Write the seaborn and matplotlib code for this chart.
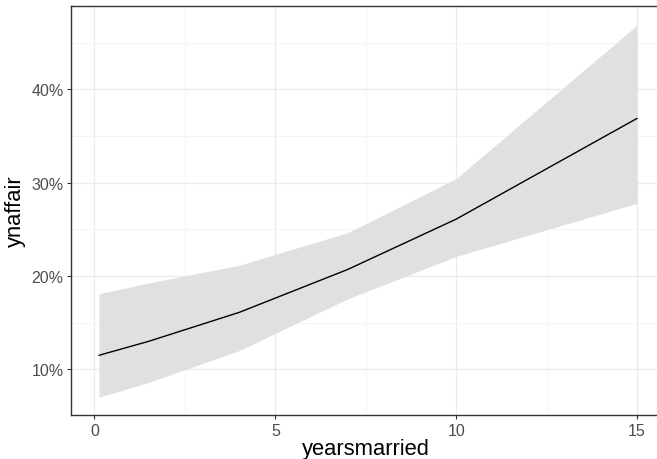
import matplotlib
matplotlib.use("Agg")
import matplotlib.pyplot as plt
import seaborn as sns
import pandas as pd
from matplotlib.ticker import PercentFormatter, MultipleLocator

yearsmarried = [0.125, 1.5, 4, 7, 10, 15]
fit = [11.5, 13.0, 16.1, 20.7, 26.1, 36.9]
upper = [18.1, 19.25, 21.15, 24.65, 30.45, 46.9]
lower = [7.0, 8.6, 12.0, 17.55, 22.1, 27.8]

df = pd.DataFrame({"yearsmarried": yearsmarried, "ynaffair": fit,
                   "lo": lower, "hi": upper})

sns.set_theme(style="white")
plt.rcParams['font.family'] = ['Liberation Sans', 'DejaVu Sans']

W, H = 657, 460
L, R, T, B = 71.3, 657, 6.5, 416
fig = plt.figure(figsize=(W / 100, H / 100), dpi=100)
ax = fig.add_axes([L / W, 1 - B / H, (R - L) / W, (B - T) / H])

ax.fill_between(df["yearsmarried"], df["lo"], df["hi"], color="#E0E0E0",
                linewidth=0, zorder=2)
sns.lineplot(data=df, x="yearsmarried", y="ynaffair", color="black",
             linewidth=1.0, ax=ax, zorder=3)

ax.set_xlim(-0.64, 15.55)
ax.set_ylim(5.1, 49.0)
ax.xaxis.set_major_locator(MultipleLocator(5))
ax.xaxis.set_minor_locator(MultipleLocator(2.5))
ax.yaxis.set_major_locator(MultipleLocator(10))
ax.yaxis.set_minor_locator(MultipleLocator(5))
ax.yaxis.set_major_formatter(PercentFormatter(100, decimals=0))

ax.grid(which="major", color="#EBEBEB", linewidth=1.0, zorder=0)
ax.grid(which="minor", color="#F2F2F2", linewidth=0.6, zorder=0)
ax.set_axisbelow(True)

for side in ["left", "bottom", "top"]:
    ax.spines[side].set_color("#333333")
    ax.spines[side].set_linewidth(1.0)
ax.spines["right"].set_visible(False)

ax.tick_params(which="major", length=3, width=0.8, color="#333333",
               labelcolor="#4D4D4D", labelsize=11.5, direction="out",
               left=True, bottom=True, pad=2.5)
ax.tick_params(which="minor", length=0)

ax.set_xlabel("yearsmarried", fontsize=15.8, color="black", va="baseline")
ax.xaxis.set_label_coords((366 - L) / (R - L), (B - 455) / (B - T))
ax.set_ylabel("ynaffair", fontsize=15.8, color="black", va="bottom")
ax.yaxis.set_label_coords((25.5 - L) / (R - L), 0.5)

fig.savefig("out.png", dpi=100)
